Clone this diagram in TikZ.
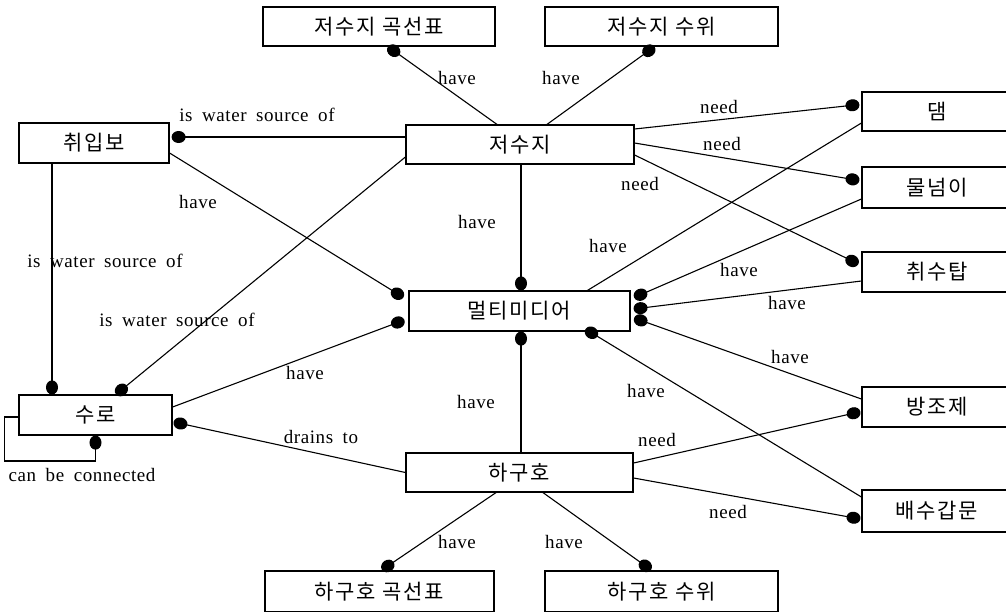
\documentclass[tikz,border=0pt]{standalone}
\usepackage{fontspec}
\usetikzlibrary{arrows.meta,calc}
\newfontfamily\krf[LetterSpace=8]{Noto Sans CJK KR}
\newfontfamily\enf[LetterSpace=3,WordSpace=1.8]{Liberation Serif}
\begin{document}
\begin{tikzpicture}[x=1pt,y=-1pt,
  box/.style={draw, line width=1.2pt, inner sep=0pt, font=\krf\fontsize{21}{25}\selectfont, minimum height=39pt},
  conn/.style={line width=1.1pt},
  dotend/.style={conn, -{Circle[length=14pt,width=12pt]}},
  lbl/.style={inner sep=0pt, font=\enf\fontsize{19}{22}\selectfont}]
\useasboundingbox (0,0) rectangle (1006,611);
\clip (0,0) rectangle (1006,611);
% nodes
\node[box, minimum width=232pt] (gok) at (379,26.5) {저수지 곡선표};
\node[box, minimum width=233pt] (suwi) at (661.5,26.5) {저수지 수위};
\node[box, minimum width=150pt, minimum height=40pt] (chwi) at (94,143) {취입보};
\node[box, minimum width=228pt] (jeo) at (520,144.5) {저수지};
\node[box, minimum width=150pt] (dam) at (937,111.5) {댐};
\node[box, minimum width=150pt, minimum height=41pt] (mul) at (937,187.5) {물넘이};
\node[box, minimum width=150pt, minimum height=40pt] (chs) at (937,272) {취수탑};
\node[box, minimum width=221pt, minimum height=40pt] (multi) at (519.5,311) {멀티미디어};
\node[box, minimum width=153pt, minimum height=40pt] (suro) at (95.5,415) {수로};
\node[box, minimum width=150pt, minimum height=40pt] (bang) at (937,407) {방조제};
\node[box, minimum width=227pt] (hagu) at (519.5,472.5) {하구호};
\node[box, minimum width=150pt, minimum height=42pt] (bae) at (937,511) {배수갑문};
\node[box, minimum width=229pt, minimum height=41pt] (hgok) at (379.5,591.5) {하구호 곡선표};
\node[box, minimum width=233pt, minimum height=41pt] (hsuwi) at (661.5,591.5) {하구호 수위};
% connectors
\draw[dotend] ([xshift=-23pt]jeo.north) -- ([xshift=9pt]gok.south);
\draw[dotend] ([xshift=27pt]jeo.north) -- ([xshift=-7pt]suwi.south);
\draw[dotend] ([yshift=7.5pt]jeo.west) -- ([xshift=2pt,yshift=6pt]chwi.east);
\draw[dotend] ([yshift=-10pt]chwi.east) -- ([xshift=-5pt,yshift=-7pt]multi.north west);
\draw[dotend] ([xshift=-42pt]chwi.south) -- ([xshift=-43.5pt]suro.north);
\draw[dotend] ([yshift=-12.5pt]jeo.west) -- ([xshift=20.5pt]suro.north);
\draw[dotend] ([xshift=1pt]jeo.south) -- ([xshift=1.5pt]multi.north);
\draw[dotend] ([yshift=15.5pt]jeo.east) -- ([xshift=-2pt,yshift=7pt]dam.west);
\draw[dotend] ([yshift=1.5pt]jeo.east) -- ([xshift=-2pt,yshift=7pt]mul.west);
\draw[dotend] ([yshift=-10.5pt]jeo.east) -- ([xshift=-3pt,yshift=8pt]chs.west);
\draw[conn] ([yshift=-11.5pt]dam.west) -- ([xshift=68pt]multi.north);
\draw[dotend] ([yshift=-11.5pt]mul.west) -- ([xshift=3.5pt,yshift=13.5pt]multi.east);
\draw[dotend] ([yshift=-9pt]chs.west) -- ([xshift=3pt,yshift=2pt]multi.east);
\draw[dotend] ([yshift=8pt]bang.west) -- ([xshift=3.5pt,yshift=-7pt]multi.east);
\draw[dotend] ([yshift=14pt]bae.west) -- ([xshift=66pt,yshift=2.5pt]multi.south);
\draw[dotend] ([xshift=1.5pt]hagu.north) -- ([xshift=1.5pt]multi.south);
\draw[dotend] ([yshift=9.5pt]hagu.east) -- ([xshift=-1pt,yshift=-4.7pt]bang.west);
\draw[dotend] ([yshift=-5.5pt]hagu.east) -- ([xshift=-1pt,yshift=-8pt]bae.west);
\draw[dotend] ([xshift=-23.5pt]hagu.south) -- ([xshift=2.5pt,yshift=0.5pt]hgok.north);
\draw[dotend] ([xshift=23.5pt]hagu.south) -- ([xshift=-10.5pt,yshift=0.5pt]hsuwi.north);
\draw[dotend] (hagu.west) -- ([xshift=1pt,yshift=-7pt]suro.east);
\draw[dotend] ([yshift=8pt]suro.east) -- ([xshift=-4pt,yshift=-9pt]multi.west);
\draw[dotend] ([yshift=-2pt]suro.west) -- ++(-14,0) -- ++(0,44) -| (suro.south);
% labels
\node[lbl] (t1) at (457,78) {have};
\node[lbl] (t2) at (561,78) {have};
\node[lbl] (t3) at (257,115) {is water source of};
\node[lbl] (t4) at (198,202) {have};
\node[lbl] (t5) at (477,222) {have};
\node[lbl] (t6) at (105,261) {is water source of};
\node[lbl] (t7) at (177,320) {is water source of};
\node[lbl] (t8) at (305,373) {have};
\node[lbl] (t9) at (476,402) {have};
\node[lbl] (t10) at (321,437) {drains to};
\node[lbl] (t11) at (82,475) {can be connected};
\node[lbl] (t12) at (457,542) {have};
\node[lbl] (t13) at (564,542) {have};
\node[lbl] (t14) at (719,107) {need};
\node[lbl] (t15) at (722,144) {need};
\node[lbl] (t16) at (640,184) {need};
\node[lbl] (t17) at (608,246) {have};
\node[lbl] (t18) at (739,270) {have};
\node[lbl] (t19) at (787,303) {have};
\node[lbl] (t20) at (790,357) {have};
\node[lbl] (t21) at (646,391) {have};
\node[lbl] (t22) at (657,440) {need};
\node[lbl] (t23) at (728,512) {need};
\end{tikzpicture}
\end{document}
